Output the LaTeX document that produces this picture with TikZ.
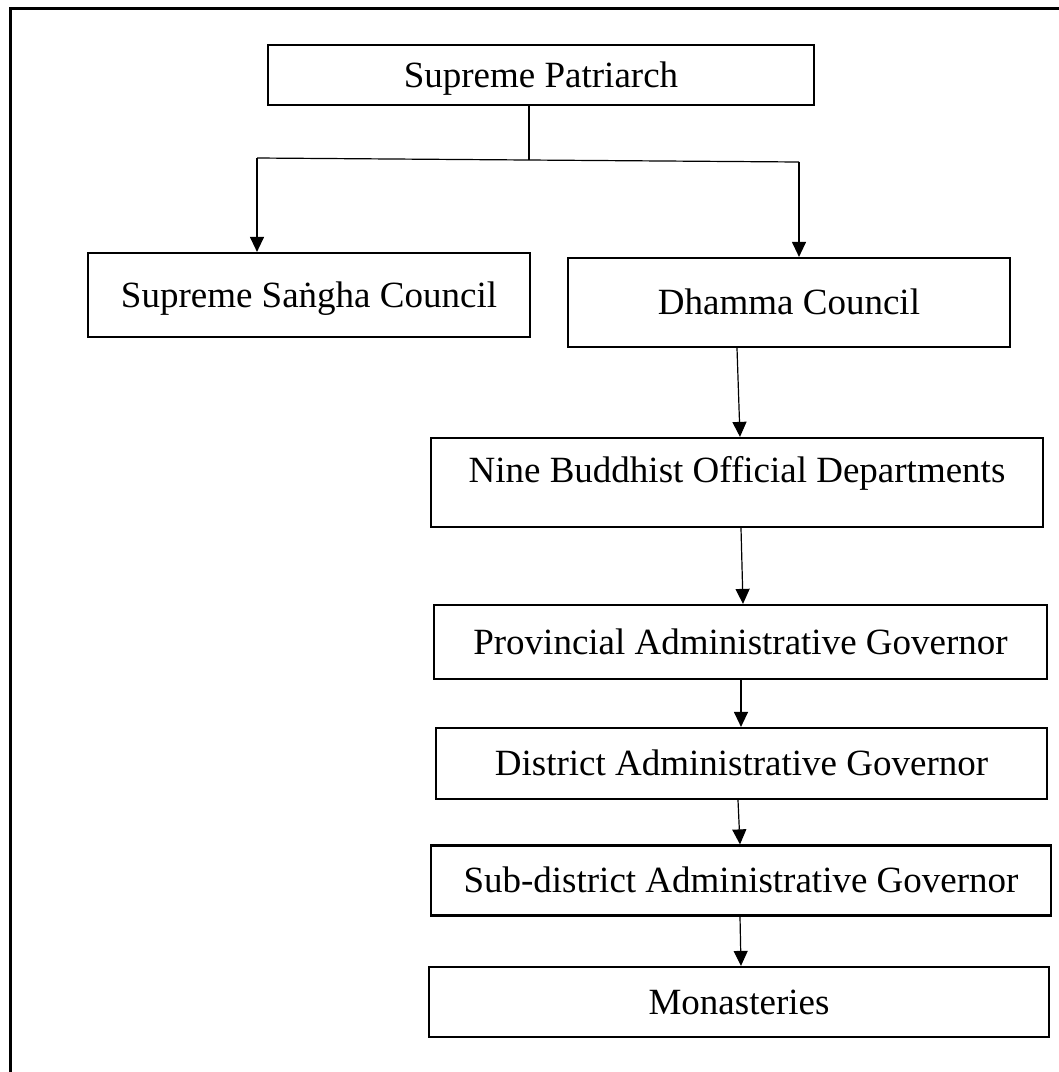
\documentclass[tikz,border=0pt]{standalone}
\usepackage{fontspec}
\setmainfont{Liberation Serif}
\usetikzlibrary{arrows.meta}
\begin{document}
\begin{tikzpicture}[x=1pt,y=-1pt,
  box/.style={draw=black, line width=2.2pt, fill=white, inner sep=0pt,
    font=\fontsize{37}{44}\selectfont, text height=24.5pt, text depth=0pt},
  label/.style={inner sep=0pt, font=\fontsize{37}{44}\selectfont,
    text height=24.5pt, text depth=0pt},
  link/.style={draw=black, line width=1.2pt},
  arr/.style={link, -{Triangle[length=15pt,width=14pt]}}]
  \clip (0,0) rectangle (1059,1072);
  % page frame (runs past the right and bottom edges)
  \draw[line width=3pt] (10,8) rectangle (1080,1095);

  % boxes of the hierarchy
  \node[box, minimum width=546pt, minimum height=60pt] (pat) at (541,75) {Supreme Patriarch};
  \node[box, minimum width=442pt, minimum height=84pt] (sangha) at (309,295) {Supreme Saṅgha Council};
  \node[box, minimum width=442pt, minimum height=89pt] (dhamma) at (789,302.5) {Dhamma Council};
  \node[box, minimum width=612pt, minimum height=89pt] (nine) at (737,482.5) {};
  \node[label] (ninetext) at (737,470.5) {Nine Buddhist Official Departments};
  \node[box, minimum width=613pt, minimum height=74pt] (prov) at (740.5,642) {Provincial Administrative Governor};
  \node[box, minimum width=611pt, minimum height=71pt] (dist) at (741.5,763.5) {District Administrative Governor};
  \node[box, minimum width=620pt, minimum height=70pt] (sub) at (741,880.5) {Sub-district Administrative Governor};
  \node[box, minimum width=620pt, minimum height=70pt] (mon) at (739,1002) {Monasteries};

  % branching from the top
  \coordinate (jm) at (529,160);
  \coordinate (jl) at (257,158);
  \coordinate (jr) at (799,162);
  \draw[link] (jm |- pat.south) -- (jm);
  \draw[link] (jl) -- (jr);
  \draw[arr] (jl) -- (jl |- sangha.north);
  \draw[arr] (jr) -- (jr |- dhamma.north);

  % chain down the right side
  \draw[arr] ([xshift=-52pt]dhamma.south) -- ([xshift=3pt]nine.north);
  \draw[arr] ([xshift=4pt]nine.south) -- ([xshift=2.5pt]prov.north);
  \draw[arr] ([xshift=0.5pt]prov.south) -- ([xshift=-0.5pt]dist.north);
  \draw[arr] ([xshift=-3.5pt]dist.south) -- ([xshift=-1pt]sub.north);
  \draw[arr] ([xshift=-1pt]sub.south) -- ([xshift=2pt]mon.north);
\end{tikzpicture}
\end{document}
